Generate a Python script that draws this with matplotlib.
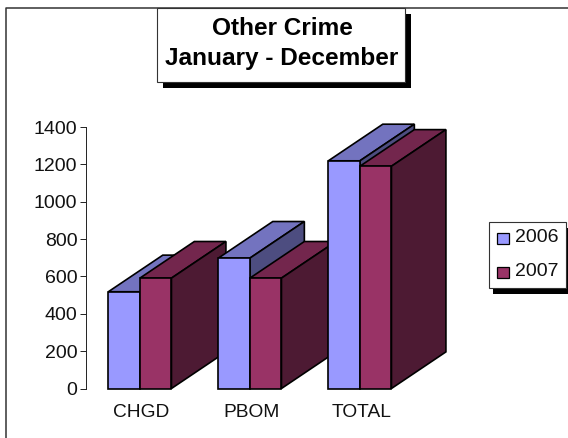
#!/usr/bin/env python3
import matplotlib
matplotlib.use("Agg")
import matplotlib.pyplot as plt
from matplotlib.patches import Rectangle
from matplotlib.transforms import ScaledTranslation

W, H = 568, 438

categories = ["CHGD", "PBOM", "TOTAL"]
series_names = ["2006", "2007"]
values_2006 = [518, 698, 1219]
values_2007 = [591, 591, 1190]
y_ticks = [0, 200, 400, 600, 800, 1000, 1200, 1400]

# front / top / side shades
BLUE = ("#9999FF", "#7373BF", "#4D4D80")
MAROON = ("#993366", "#73264D", "#4D1A33")

plt.rcParams["font.family"] = ["Liberation Sans", "DejaVu Sans"]


def fx(px):
    return px / W


def fy(px):
    return 1 - px / H


def box(fig, left, top, right, bottom, shadow=(5, 5)):
    # white box with a hard black drop shadow
    fig.add_artist(Rectangle((fx(left + shadow[0]), fy(bottom + shadow[1])),
                             (right - left) / W, (bottom - top) / H,
                             facecolor="black", edgecolor="none", zorder=5))
    fig.add_artist(Rectangle((fx(left), fy(bottom)),
                             (right - left) / W, (bottom - top) / H,
                             facecolor="white", edgecolor="#333333", linewidth=0.8, zorder=6))


fig = plt.figure(figsize=(W / 100, H / 100), dpi=100, facecolor="white")

# chart area border: only top and left show
fig.add_artist(plt.Line2D([fx(6), fx(6), fx(W)], [fy(H), fy(8), fy(8)],
                          color="#333333", linewidth=1.1))

ax = fig.add_axes([fx(86), fy(388.5), 330 / W, 261.5 / H])
ax.set_xlim(-0.49, 2.51)
ax.set_ylim(0, 1400)
ax.patch.set_visible(False)
for side in ["top", "right", "bottom"]:
    ax.spines[side].set_visible(False)
ax.spines["left"].set_linewidth(0.7)
ax.spines["left"].set_color("#222222")

ax.set_yticks(y_ticks)
ax.tick_params(axis="y", length=4.2, width=0.7, color="#222222", labelsize=14, pad=2, labelcolor="#111111")
ax.set_xticks(range(len(categories)))
ax.set_xticklabels(categories, fontsize=13.8, color="#111111")
ax.tick_params(axis="x", length=0, pad=11)
nudge = ScaledTranslation(1.5 / 100, 0, fig.dpi_scale_trans)
for lbl in ax.get_xticklabels():
    lbl.set_transform(lbl.get_transform() + nudge)

bar_w = 0.287
depth_x = 0.495
depth_y = 196


def bar3d(x0, x1, h, shades):
    front, top, side = shades
    style = dict(edgecolor="black", linewidth=1.2, clip_on=False, joinstyle="miter")
    ax.fill([x0, x0 + depth_x, x1 + depth_x, x1], [h, h + depth_y, h + depth_y, h],
            facecolor=top, **style)
    ax.fill([x1, x1 + depth_x, x1 + depth_x, x1], [0, depth_y, h + depth_y, h],
            facecolor=side, **style)
    ax.fill([x0, x1, x1, x0], [0, 0, h, h], facecolor=front, **style)


for i in range(len(categories)):
    bar3d(i - bar_w, i, values_2006[i], BLUE)
    bar3d(i, i + bar_w, values_2007[i], MAROON)

# title box
box(fig, 157, 8, 405, 81.5, shadow=(6, 6))
fig.text(fx(282), fy(28.5), "Other Crime", ha="center", va="center",
         fontsize=17.6, fontweight="bold", color="black", zorder=7)
fig.text(fx(282), fy(58.5), "January - December", ha="center", va="center",
         fontsize=17.6, fontweight="bold", color="black", zorder=7)

# legend box
box(fig, 489, 221.5, 565.5, 288, shadow=(4, 6))
for name, shades, cy in zip(series_names, [BLUE, MAROON], [238.5, 272.5]):
    fig.add_artist(Rectangle((fx(496.5), fy(cy + 5.5)), 12 / W, 11 / H,
                             facecolor=shades[0], edgecolor="black", linewidth=0.9, zorder=7))
    fig.text(fx(515.5), fy(cy - 0.5), name, ha="left", va="center",
             fontsize=14, color="#111111", zorder=7)

fig.savefig("out.png", dpi=100, facecolor="white")
